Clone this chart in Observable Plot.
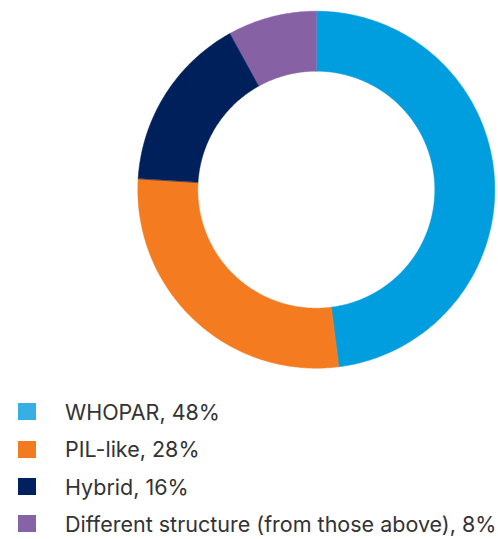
<!DOCTYPE html>
<html>
<head>
<meta charset="utf-8">
<script src="https://cdn.jsdelivr.net/npm/d3@7"></script>
<script src="https://cdn.jsdelivr.net/npm/@observablehq/plot@0.6"></script>
<style>
  html, body { margin: 0; padding: 0; background: #fff; }
  #chart { position: relative; width: 498px; height: 539px; overflow: hidden; }
  #chart svg { display: block; }
  .legend { position: absolute; left: 18px; top: 393.3px; font-family: Inter, Roboto, sans-serif; font-size: 21.5px; color: #333; white-space: nowrap; }
  .legend .row { display: flex; align-items: center; height: 37.3px; }
  .legend .sw { width: 18px; height: 17px; margin-right: 29px; flex: none; }
</style>
</head>
<body>
<div id="chart"></div>
<script>
const categories = ["WHOPAR", "PIL-like", "Hybrid", "Different structure (from those above)"];
const values = [48, 28, 16, 8];
const colors = ["#009DDF", "#F47B20", "#00205B", "#8662A5"];
const legendColors = ["#36B0E4", "#F47A20", "#002060", "#8662A6"];

const data = categories.map((c, i) => ({category: c, value: values[i]}));
const arcs = d3.pie().sort(null).value(d => d.value)(data);
const inner = 118.5 / 178.5;
const pts = [];
arcs.forEach(a => {
  const n = Math.max(8, Math.ceil((a.endAngle - a.startAngle) * 80));
  for (let k = 0; k <= n; k++) {
    const t = a.startAngle + (a.endAngle - a.startAngle) * k / n;
    pts.push({category: a.data.category, x: Math.sin(t), y: Math.cos(t)});
  }
  for (let k = n; k >= 0; k--) {
    const t = a.startAngle + (a.endAngle - a.startAngle) * k / n;
    pts.push({category: a.data.category, x: inner * Math.sin(t), y: inner * Math.cos(t)});
  }
});

const plot = Plot.plot({
  width: 498,
  height: 390,
  margin: 0,
  x: {domain: [-1, 1], range: [137.3, 494.3], axis: null},
  y: {domain: [-1, 1], range: [367.7, 10.7], axis: null},
  color: {domain: categories, range: colors},
  marks: [
    Plot.line(pts, {x: "x", y: "y", z: "category", fill: "category", stroke: "category", strokeWidth: 0.5, curve: "linear-closed"})
  ]
});
const chart = document.getElementById("chart");
chart.appendChild(plot);

const legend = document.createElement("div");
legend.className = "legend";
categories.forEach((c, i) => {
  const row = document.createElement("div");
  row.className = "row";
  const sw = document.createElement("span");
  sw.className = "sw";
  sw.style.background = legendColors[i];
  const label = document.createElement("span");
  label.textContent = `${c}, ${values[i]}%`;
  row.appendChild(sw);
  row.appendChild(label);
  legend.appendChild(row);
});
chart.appendChild(legend);
</script>
</body>
</html>
